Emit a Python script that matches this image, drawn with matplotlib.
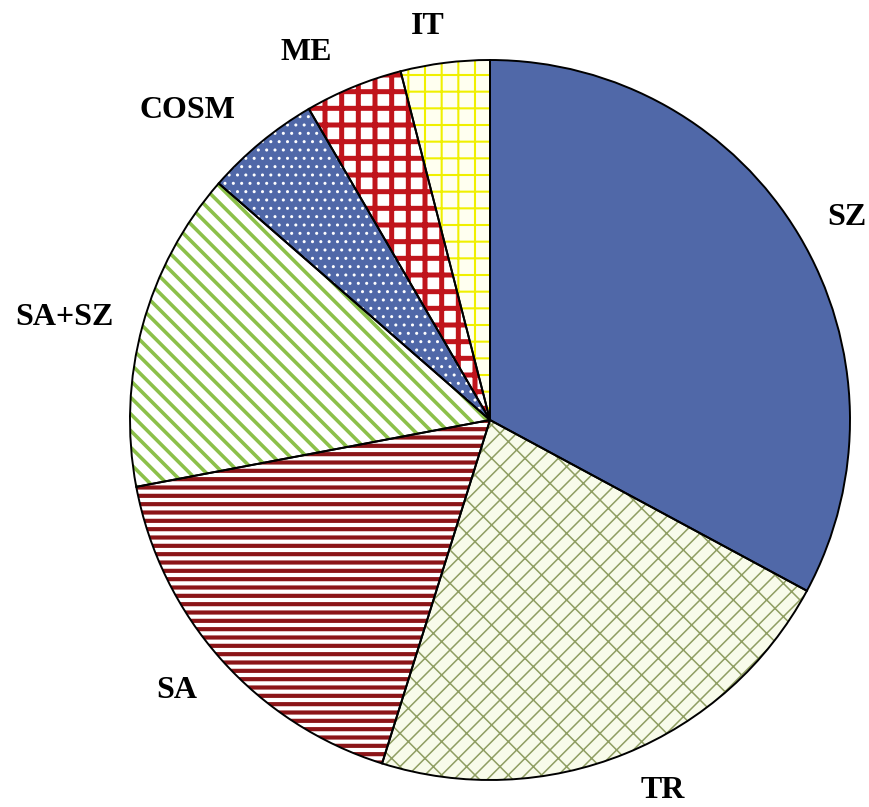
import matplotlib
matplotlib.use("Agg")
import matplotlib.pyplot as plt
import numpy as np

categories = ["SZ", "TR", "SA", "SA+SZ", "COSM", "ME", "IT"]
shares = [32.9, 22.0, 17.2, 14.4, 5.2, 4.4, 4.0]

face_colors = ["#5068A8", "#F8FBEA", "#FFFFFF", "#FFFFFF", "#5068A8", "#FFFFFF", "#FFFFF0"]
hatch_colors = ["#5068A8", "#8F9E62", "#8B1518", "#8CC04A", "#FFFFFF", "#C0141C", "#F0F000"]
hatches = [None, "x/", "--", "\\\\", "..", "+", "+"]
hatch_lw = [1.0, 1.1, 3.0, 2.6, 1.0, 3.6, 1.5]
# label placement (layout only): radial distance and angular offset from wedge middle
label_dist = [1.139, 1.136, 1.149, 1.215, 1.204, 1.143, 1.107]
label_dang = [-1.3, 2.9, -0.8, 1.7, 4.8, 4.3, 1.8]

W, H = 869, 807
fig = plt.figure(figsize=(W / 100, H / 100), dpi=100)
cx, cy, r = 490, 420, 360
ax = fig.add_axes([(cx - r) / W, (H - cy - r) / H, 2 * r / W, 2 * r / H])

# filled / hatched layer
wedges, _ = ax.pie(shares, startangle=90, counterclock=False, radius=1,
                   colors=face_colors, wedgeprops=dict(linewidth=0))
for w, hc, h, lw in zip(wedges, hatch_colors, hatches, hatch_lw):
    w.set_edgecolor(hc)
    w.set_linewidth(0)
    if h:
        w.set_hatch(h)
        if hasattr(w, "set_hatch_linewidth"):
            w.set_hatch_linewidth(lw)
        else:
            w._hatch_linewidth = lw

# outline layer
ax.pie(shares, startangle=90, counterclock=False, radius=1,
       colors=["none"] * len(shares),
       wedgeprops=dict(linewidth=1.4, edgecolor="black", fill=False))

ax.set_xlim(-1, 1)
ax.set_ylim(-1, 1)
ax.set_aspect("equal")
ax.axis("off")

for w, name, d, da in zip(wedges, categories, label_dist, label_dang):
    ang = np.deg2rad((w.theta1 + w.theta2) / 2 + da)
    ax.text(d * np.cos(ang), d * np.sin(ang), name, ha="center", va="center",
            fontsize=23, fontweight="bold", family="Liberation Serif",
            color="black", clip_on=False)

fig.savefig("out.png", dpi=100, facecolor="white")
